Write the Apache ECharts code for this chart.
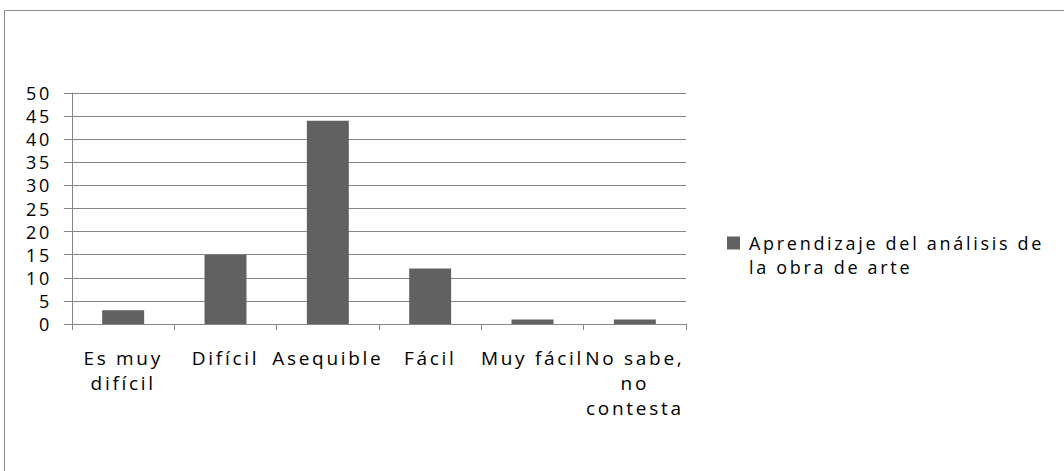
<!DOCTYPE html>
<html>
<head>
<meta charset="utf-8">
<script src="https://cdn.jsdelivr.net/npm/echarts@6/dist/echarts.min.js"></script>
<style>
html,body{margin:0;padding:0;background:#fff;}
#c{width:1064px;height:471px;}
#c svg text{letter-spacing:2.7px;}
</style>
</head>
<body>
<div id="c"></div>
<script>
var categories = ['Es muy\ndifícil', 'Difícil', 'Asequible', 'Fácil', 'Muy fácil', 'No sabe,\nno\ncontesta'];
var values = [3, 15, 44, 12, 1, 1];
var seriesName = 'Aprendizaje del análisis de la obra de arte';
var yTicks = {min: 0, max: 50, interval: 5};

var chart = echarts.init(document.getElementById('c'), null, {renderer: 'svg'});
var font = '"Open Sans", "Noto Sans", sans-serif';
chart.setOption({
  animation: false,
  backgroundColor: '#ffffff',
  graphic: [{
    type: 'rect', silent: true, z: -1,
    shape: {x: 4.5, y: 10.5, width: 1100, height: 500},
    style: {fill: 'none', stroke: '#8c8c8c', lineWidth: 1}
  }],
  grid: {left: 72, right: 378, top: 93, bottom: 147, containLabel: false},
  legend: {
    data: [seriesName],
    left: 722, top: 226,
    icon: 'path://M0,0L13,0L13,13L0,13Z M17,37L17,37',
    symbolKeepAspect: false,
    itemWidth: 17, itemHeight: 37, itemGap: 9,
    formatter: function (n) { return n.replace(' la obra', '\nla obra'); },
    textStyle: {fontFamily: font, fontSize: 18, color: '#000', lineHeight: 24}
  },
  xAxis: {
    type: 'category',
    data: categories,
    axisLine: {lineStyle: {color: '#868686'}},
    axisTick: {show: true, length: 6, lineStyle: {color: '#868686'}},
    axisLabel: {interval: 0, margin: 21, fontFamily: font, fontSize: 19, color: '#000', lineHeight: 25}
  },
  yAxis: {
    type: 'value',
    min: yTicks.min, max: yTicks.max, interval: yTicks.interval,
    axisLine: {show: true, lineStyle: {color: '#868686'}},
    axisTick: {show: true, length: 8, lineStyle: {color: '#868686'}},
    splitLine: {lineStyle: {color: '#868686'}},
    axisLabel: {margin: 20, fontFamily: font, fontSize: 18, color: '#000'}
  },
  series: [{
    name: seriesName,
    type: 'bar',
    data: values,
    barWidth: '41%',
    itemStyle: {color: '#616161'}
  }]
});
</script>
</body>
</html>
